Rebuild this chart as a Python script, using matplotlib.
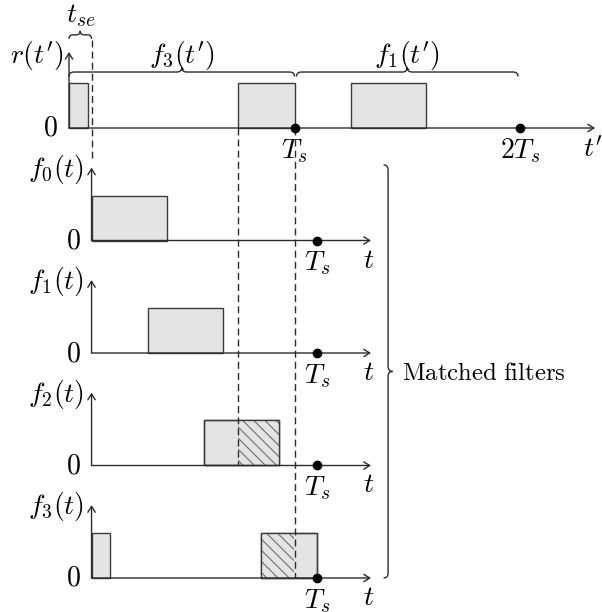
import matplotlib
matplotlib.use("Agg")
import matplotlib.pyplot as plt
from matplotlib.path import Path
from matplotlib.patches import PathPatch

plt.rcParams["mathtext.fontset"] = "cm"
plt.rcParams["hatch.linewidth"] = 0.8

# ---- signal description (time in units of the symbol period) ----
Ts = 1.0
t_se = 0.1                      # synchronisation error
pulse_height = 1.0

# received signal r(t'): f3 (wrapped) followed by f1
r_starts = [0.0, 0.75, 1.25]
r_ends = [0.083, 1.0, 1.583]

# matched filters f0..f3
filter_names = ["f_0", "f_1", "f_2", "f_3"]
filter_starts = [[0.0], [0.25], [0.5], [0.0, 0.75]]
filter_ends = [[0.333], [0.583], [0.833], [0.083, 1.0]]

row_gap = 2.5                   # vertical distance between baselines

# ---- drawing helpers ----
FIG_W, FIG_H = 602, 612
X_ORIGIN_PX, Y_ORIGIN_PX = 69, 128
PX_PER_T, PX_PER_Y = 225.5, 45.0
DX = 1.0 / PX_PER_T
DY = 1.0 / PX_PER_Y

INK = "#2b2b2b"
EDGE = "#3c3c3c"
FILL = "#e4e4e4"
FS = 20          # math labels
FS_TXT = 17.8    # roman text

fig = plt.figure(figsize=(FIG_W / 100, FIG_H / 100), dpi=100)
ax = fig.add_axes([0, 0, 1, 1])
ax.set_xlim(-X_ORIGIN_PX * DX, (FIG_W - X_ORIGIN_PX) * DX)
ax.set_ylim(-(FIG_H - Y_ORIGIN_PX) * DY, Y_ORIGIN_PX * DY)
ax.axis("off")


def arrow(x0, y0, x1, y1):
    ax.annotate("", xy=(x1, y1), xytext=(x0, y0),
                arrowprops=dict(arrowstyle="->,head_length=0.35,head_width=0.22",
                                lw=1.0, color=INK, shrinkA=0, shrinkB=0,
                                mutation_scale=12))


def hbrace(x0, x1, y, amp_px=4.5, r_px=5):
    """Horizontal curly brace, tip pointing up."""
    a, r = amp_px * DY, r_px * DX
    xm = 0.5 * (x0 + x1)
    verts = [(x0, y - a), (x0, y), (x0 + r, y),
             (xm - r, y), (xm, y), (xm, y + a),
             (xm, y), (xm + r, y),
             (x1 - r, y), (x1, y), (x1, y - a)]
    codes = [Path.MOVETO, Path.CURVE3, Path.CURVE3,
             Path.LINETO, Path.CURVE3, Path.CURVE3,
             Path.CURVE3, Path.CURVE3,
             Path.LINETO, Path.CURVE3, Path.CURVE3]
    ax.add_patch(PathPatch(Path(verts, codes), fc="none", ec=INK, lw=1.0))


def vbrace(x, y0, y1, amp_px=4.5, r_px=5):
    """Vertical curly brace, tip pointing right."""
    a, r = amp_px * DX, r_px * DY
    ym = 0.5 * (y0 + y1)
    verts = [(x - a, y0), (x, y0), (x, y0 - r),
             (x, ym + r), (x, ym), (x + a, ym),
             (x, ym), (x, ym - r),
             (x, y1 + r), (x, y1), (x - a, y1)]
    codes = [Path.MOVETO, Path.CURVE3, Path.CURVE3,
             Path.LINETO, Path.CURVE3, Path.CURVE3,
             Path.CURVE3, Path.CURVE3,
             Path.LINETO, Path.CURVE3, Path.CURVE3]
    ax.add_patch(PathPatch(Path(verts, codes), fc="none", ec=INK, lw=1.0))


def pulses(starts, ends, x_off, base):
    widths = [e - s for s, e in zip(starts, ends)]
    lefts = [s + x_off for s in starts]
    ax.bar(lefts, [pulse_height] * len(lefts), width=widths, bottom=base,
           align="edge", color=FILL, edgecolor=EDGE, lw=1.0, zorder=2)


def dashed(x, y0, y1):
    ax.plot([x, x], [y0, y1], color=INK, lw=1.0, ls=(0, (5, 3)), zorder=4)


def label(x, y, s, ha="center", va="baseline", size=FS):
    ax.text(x, y, s, fontsize=size, ha=ha, va=va)


# ---- received signal r(t') ----
pulses(r_starts, r_ends, 0.0, 0.0)
arrow(0, 0, 2.333, 0)
arrow(0, 0, 0, 1.69)
ax.plot([Ts, 2 * Ts], [0, 0], "o", color="black", ms=6, zorder=5)

label(-0.025, 1.44, r"$r(t')$", ha="right")
label(-11 * DX, 0, r"$0$", ha="right", va="center")
label(Ts, -0.667, r"$T_s$")
label(2 * Ts, -0.667, r"$2T_s$")
label(2.324, -0.645, r"$t'$")

# braces over the two symbols and the synchronisation error
hbrace(0, Ts, 1.244)
hbrace(Ts + 2 * DX, 2 * Ts - 2 * DX, 1.244)
label(0.5 * Ts, 1.44, r"$f_3(t')$")
label(1.5 * Ts, 1.44, r"$f_1(t')$")
hbrace(0, t_se, 2.07, amp_px=4, r_px=4)
label(t_se / 2, 2.356, r"$t_{se}$")

# ---- matched filters ----
# overlap of each filter with the f3 pulse of r(t'), seen in the filter's time axis
win_lo, win_hi = r_starts[1] - t_se, r_ends[1] - t_se
for i, name in enumerate(filter_names):
    base = -(i + 1) * row_gap
    pulses(filter_starts[i], filter_ends[i], t_se, base)
    for s, e in zip(filter_starts[i], filter_ends[i]):
        lo, hi = max(s, win_lo), min(e, win_hi)
        if hi > lo:
            ax.bar(lo + t_se, pulse_height, width=hi - lo, bottom=base,
                   align="edge", color=FILL, edgecolor="#6e6e6e", lw=0,
                   hatch="\\\\\\", zorder=2.5)
            ax.bar(s + t_se, pulse_height, width=e - s, bottom=base,
                   align="edge", color="none", edgecolor=EDGE, lw=1.0, zorder=3)
    arrow(t_se, base, 1.339, base)
    arrow(t_se, base, t_se, base + 1.62)
    ax.plot([t_se + Ts], [base], "o", color="black", ms=6, zorder=5)
    label(0.068, base + 1.42, rf"${name}(t)$", ha="right")
    label(t_se - 11 * DX, base, r"$0$", ha="right", va="center")
    label(t_se + Ts, base - 0.667, r"$T_s$")
    label(1.330, base - 0.60, r"$t$")

# alignment guides
dashed(t_se, 1.96, -0.76)
dashed(r_starts[1], 0, -3 * row_gap)
dashed(r_ends[1], 0, -4 * row_gap)

vbrace(1.415, -0.82, -4 * row_gap)
label(1.477, -5.6, r"$\mathrm{Matched\ filters}$", ha="left", size=FS_TXT)

fig.savefig("out.png", dpi=100)
